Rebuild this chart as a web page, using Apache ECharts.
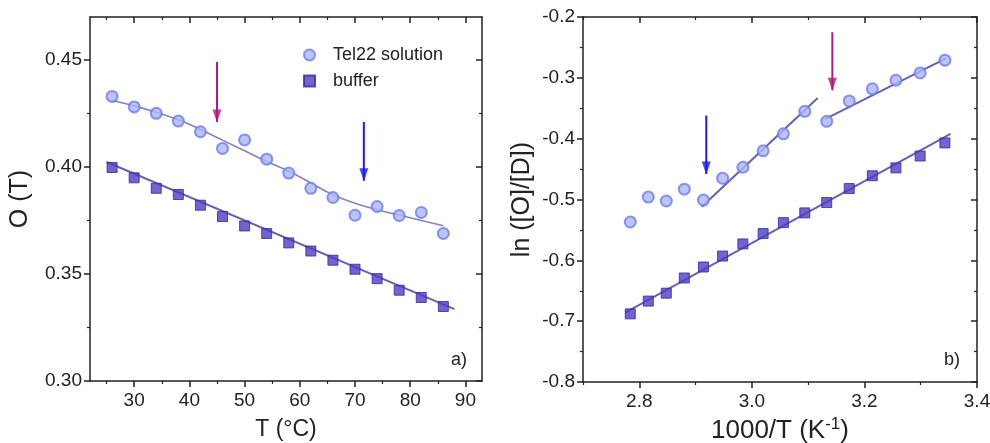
<!DOCTYPE html>
<html><head><meta charset="utf-8">
<script src="https://cdn.jsdelivr.net/npm/echarts@6/dist/echarts.min.js"></script>
<style>html,body{margin:0;padding:0;background:#fff}#c{width:990px;height:443px}</style>
</head><body><div id="c"></div>
<script>
// ---- Panel a) data ----
const tempC = [26, 30, 34, 38, 42, 46, 50, 54, 58, 62, 66, 70, 74, 78, 82, 86];
const telA = [0.4329, 0.4280, 0.4250, 0.4214, 0.4164, 0.4086, 0.4126, 0.4036, 0.3971, 0.3900, 0.3857, 0.3774, 0.3815, 0.3773, 0.3787, 0.3689];
const bufA = [0.3997, 0.3949, 0.3900, 0.3871, 0.3821, 0.3768, 0.3724, 0.3689, 0.3645, 0.3607, 0.3564, 0.3522, 0.3478, 0.3424, 0.3390, 0.3348];
const telFitA = [0.4310, 0.4285, 0.4255, 0.4220, 0.4175, 0.4125, 0.4075, 0.4025, 0.3980, 0.3925, 0.3870, 0.3830, 0.3800, 0.3775, 0.3750, 0.3725];
const bufFitAx = [25, 88];
const bufFitAy = [0.4023, 0.3336];
const arrowsA = [ // x, yFrom, yTo, color
  [45, 0.449, 0.421, '#b0197e'],
  [71.6, 0.421, 0.3935, '#1a1aff']
];
const xTicksA = [30, 40, 50, 60, 70, 80, 90];
const xMinorA = [25, 35, 45, 55, 65, 75, 85];
const yTicksA = [0.30, 0.35, 0.40, 0.45];
const yMinorA = [0.325, 0.375, 0.425];

// ---- Panel b) data ----
const invT = [2.784, 2.816, 2.848, 2.880, 2.914, 2.948, 2.984, 3.020, 3.056, 3.094, 3.133, 3.173, 3.214, 3.256, 3.299, 3.343];
const telB = [-0.537, -0.496, -0.5025, -0.483, -0.501, -0.465, -0.447, -0.420, -0.392, -0.355, -0.3715, -0.338, -0.318, -0.304, -0.292, -0.271];
const bufB = [-0.688, -0.667, -0.654, -0.629, -0.611, -0.593, -0.573, -0.556, -0.538, -0.522, -0.505, -0.482, -0.461, -0.448, -0.4285, -0.407];
const bufFitBx = [2.775, 3.353];
const bufFitBy = [-0.686, -0.392];
const telFitB1x = [2.911, 3.117];
const telFitB1y = [-0.512, -0.333];
const telFitB2x = [3.130, 3.345];
const telFitB2y = [-0.368, -0.268];
const arrowsB = [
  [2.919, -0.362, -0.458, '#1a1aff'],
  [3.143, -0.225, -0.3205, '#b0197e']
];
const xTicksB = [2.8, 3.0, 3.2, 3.4];
const xMinorB = [2.7, 2.9, 3.1, 3.3];
const yTicksB = [-0.8, -0.7, -0.6, -0.5, -0.4, -0.3, -0.2];
const yMinorB = [-0.75, -0.65, -0.55, -0.45, -0.35, -0.25];

const FONT = 'Liberation Sans, Arial, sans-serif';
const TXT = '#222';
const circleStyle = {color: '#aab6fa', borderColor: '#6b7cf2', borderWidth: 2};
const squareStyle = {color: '#4b3dc4', borderColor: '#34289c', borderWidth: 1};
const fitColor = '#6a5fb4';

function zip(a, b) { return a.map((v, i) => [v, b[i]]); }

function axisSet(grid, type, min, max, major, minor, fmt, name, nameGap, nameSize, nameRich) {
  const isX = type === 'x';
  const base = {type: 'value', gridIndex: grid, min: min, max: max, splitLine: {show: false}};
  const mainPos = isX ? 'bottom' : 'left';
  const mirPos = isX ? 'top' : 'right';
  const axes = [];
  axes.push(Object.assign({}, base, {
    position: mainPos,
    axisLine: {show: true, onZero: false, lineStyle: {color: TXT, width: 1.5}},
    axisTick: {show: true, inside: false, length: 6, customValues: major, lineStyle: {color: TXT, width: 1.5}},
    axisLabel: {show: true, customValues: major, formatter: fmt, color: TXT, fontSize: 19, fontFamily: FONT, margin: isX ? 10 : 8},
    name: name, nameLocation: 'middle', nameGap: nameGap,
    nameTextStyle: Object.assign({color: TXT, fontSize: nameSize, fontFamily: FONT}, nameRich ? {rich: nameRich} : {})
  }));
  axes.push(Object.assign({}, base, {
    position: mainPos,
    axisLine: {show: false, onZero: false},
    axisTick: {show: true, inside: false, length: 3, customValues: minor, lineStyle: {color: TXT, width: 1.2}},
    axisLabel: {show: false}
  }));
  axes.push(Object.assign({}, base, {
    position: mirPos,
    axisLine: {show: true, onZero: false, lineStyle: {color: TXT, width: 1.5}},
    axisTick: {show: true, inside: true, length: 6, customValues: major, lineStyle: {color: TXT, width: 1.5}},
    axisLabel: {show: false}
  }));
  axes.push(Object.assign({}, base, {
    position: mirPos,
    axisLine: {show: false, onZero: false},
    axisTick: {show: true, inside: true, length: 3, customValues: minor, lineStyle: {color: TXT, width: 1.2}},
    axisLabel: {show: false}
  }));
  return axes;
}

const xAxes = [].concat(
  axisSet(0, 'x', 22, 93, xTicksA, xMinorA, v => String(Math.round(v)), 'T (°C)', 37, 23),
  axisSet(1, 'x', 2.7, 3.4, xTicksB, xMinorB, v => v.toFixed(1), '1000/T (K{sup|-1})', 33, 26,
    {sup: {fontSize: 17, fontFamily: FONT, color: TXT, verticalAlign: 'top', padding: [0, 0, 12, 0]}})
);
const yAxes = [].concat(
  axisSet(0, 'y', 0.30, 0.47, yTicksA, yMinorA, v => v.toFixed(2), 'O (T)', 57, 25),
  axisSet(1, 'y', -0.8, -0.2, yTicksB, yMinorB, v => v.toFixed(1), 'ln ([O]/[D])', 48, 25)
);

const series = [
  // panel a
  {name: 'fitTelA', type: 'line', xAxisIndex: 0, yAxisIndex: 0, data: zip(tempC, telFitA), smooth: true, showSymbol: false,
   lineStyle: {color: '#8a80c4', width: 1.6}, z: 2},
  {name: 'fitBufA', type: 'line', xAxisIndex: 0, yAxisIndex: 0, data: zip(bufFitAx, bufFitAy), showSymbol: false,
   lineStyle: {color: fitColor, width: 2}, z: 2},
  {name: 'Tel22 solution', type: 'scatter', xAxisIndex: 0, yAxisIndex: 0, data: zip(tempC, telA), symbol: 'circle', symbolSize: 11,
   itemStyle: circleStyle, z: 3},
  {name: 'buffer', type: 'scatter', xAxisIndex: 0, yAxisIndex: 0, data: zip(tempC, bufA), symbol: 'rect', symbolSize: 10,
   itemStyle: squareStyle, z: 3},
  // panel b
  {name: 'fitBufB', type: 'line', xAxisIndex: 4, yAxisIndex: 4, data: zip(bufFitBx, bufFitBy), showSymbol: false,
   lineStyle: {color: fitColor, width: 2}, z: 2},
  {name: 'fitTelB1', type: 'line', xAxisIndex: 4, yAxisIndex: 4, data: zip(telFitB1x, telFitB1y), showSymbol: false,
   lineStyle: {color: fitColor, width: 2}, z: 2},
  {name: 'fitTelB2', type: 'line', xAxisIndex: 4, yAxisIndex: 4, data: zip(telFitB2x, telFitB2y), showSymbol: false,
   lineStyle: {color: fitColor, width: 2}, z: 2},
  {name: 'Tel22 solution', type: 'scatter', xAxisIndex: 4, yAxisIndex: 4, data: zip(invT, telB), symbol: 'circle', symbolSize: 11,
   itemStyle: circleStyle, z: 3},
  {name: 'buffer', type: 'scatter', xAxisIndex: 4, yAxisIndex: 4, data: zip(invT, bufB), symbol: 'rect', symbolSize: 10,
   itemStyle: squareStyle, z: 3}
];

// arrows: one line series per arrow, with arrowhead drawn by a triangle scatter at the tip
function addArrows(list, axisIdx) {
  list.forEach(a => {
    series.push({type: 'line', xAxisIndex: axisIdx, yAxisIndex: axisIdx, data: [[a[0], a[1]], [a[0], a[2]]],
      showSymbol: false, silent: true, lineStyle: {color: a[3], width: 2}, z: 4});
    series.push({type: 'scatter', xAxisIndex: axisIdx, yAxisIndex: axisIdx, data: [[a[0], a[2]]], silent: true,
      symbol: 'triangle', symbolSize: [9, 13], symbolRotate: 180, symbolOffset: [0, -6],
      itemStyle: {color: a[3]}, z: 4});
  });
}
addArrows(arrowsA, 0);
addArrows(arrowsB, 4);

const chart = echarts.init(document.getElementById('c'), null, {renderer: 'canvas'});
chart.setOption({
  animation: false,
  backgroundColor: '#fff',
  grid: [
    {left: 90, top: 17, width: 392, height: 364, outerBoundsMode: 'none', containLabel: false},
    {left: 583, top: 17, width: 394, height: 365, outerBoundsMode: 'none', containLabel: false}
  ],
  xAxis: xAxes,
  yAxis: yAxes,
  legend: {
    data: ['Tel22 solution', 'buffer'], orient: 'vertical', left: 298, top: 41,
    itemWidth: 11, itemHeight: 11, itemGap: 8, selectedMode: false,
    textStyle: {color: TXT, fontSize: 18, fontFamily: FONT, padding: [0, 0, 0, 13]}
  },
  graphic: [
    {type: 'text', left: 451, top: 351, style: {text: 'a)', fontSize: 18, fontFamily: FONT, fill: TXT}},
    {type: 'text', left: 944, top: 351, style: {text: 'b)', fontSize: 18, fontFamily: FONT, fill: TXT}}
  ],
  series: series
});
</script></body></html>
